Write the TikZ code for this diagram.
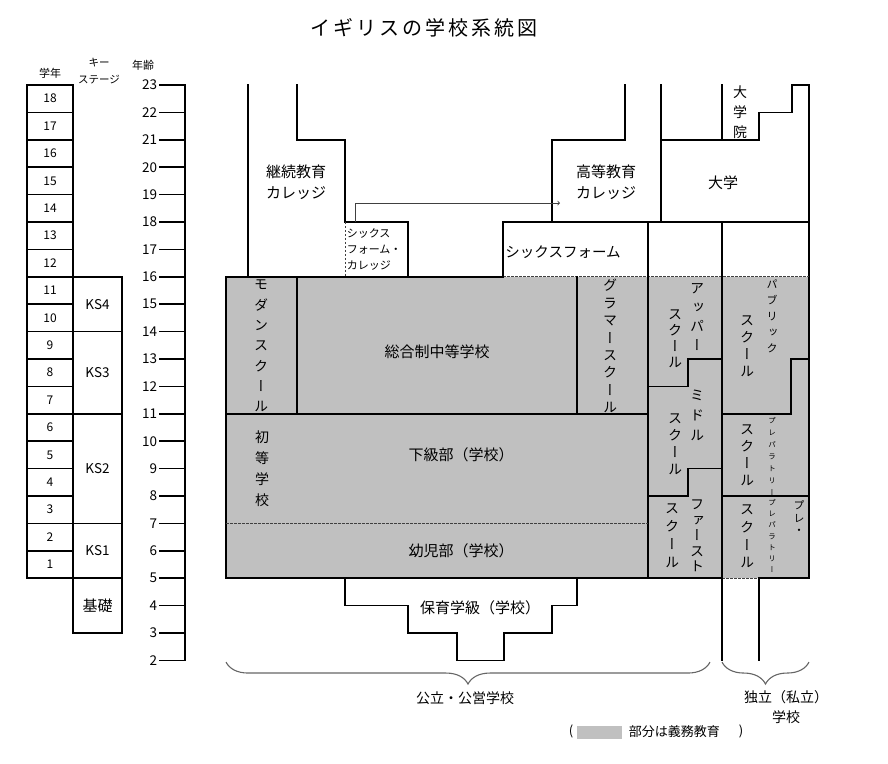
\documentclass[tikz,border=0pt]{standalone}
\usepackage{fontspec}
\setmainfont{Noto Sans CJK JP}
\newfontfamily\vjp[RawFeature=+vert]{Noto Sans CJK JP}
\newfontfamily\titlejp[LetterSpace=15]{Noto Sans CJK JP}
\usetikzlibrary{decorations.pathreplacing}
\definecolor{compgray}{RGB}{192,192,192}

\begin{document}
\begin{tikzpicture}[x=1pt, y=27.4pt, line width=1.6pt, line cap=rect,
  lbl/.style={inner sep=0pt, align=center, font=\fontsize{15}{21}\selectfont},
  lblsm/.style={inner sep=0pt, align=left, font=\fontsize{11}{16}\selectfont},
  hdr/.style={inner sep=0pt, align=center, font=\fontsize{11}{17}\selectfont},
  num/.style={inner sep=0pt, font=\fontsize{12}{14}\selectfont},
  agenum/.style={inner sep=0pt, anchor=east, font=\fontsize{13.5}{15}\selectfont},
  vt/.style={inner sep=0pt, align=center, font=\vjp\fontsize{14}{#1}\selectfont},
  vtsm/.style={inner sep=0pt, align=center, font=\vjp\fontsize{11}{#1}\selectfont},
  vttiny/.style={inner sep=0pt, align=center, font=\vjp\fontsize{7.5}{#1}\selectfont},
  dashline/.style={line width=0.8pt, line cap=butt, black!75, dash pattern=on 2.5pt off 1.5pt},
  schoolbrace/.style={decorate, decoration={brace, mirror, amplitude=22pt},
    line width=1.1pt, line cap=butt, black!60}]
  \useasboundingbox (0,-1.781) rectangle (888,26.102);

  % title and headers
  \node[inner sep=0pt, font=\titlejp\fontsize{20}{24}\selectfont] (title) at (424,25.08) {イギリスの学校系統図};
  \node[hdr] (hGrade) at (50,23.43) {学年};
  \node[hdr, font=\fontsize{10.5}{17}\selectfont] (hStage) at (99,23.49) {キー\\ステージ};
  \node[hdr] (hAge) at (143,23.73) {年齢};

  % grade column
  \draw (27,5) rectangle (73,23);
  \foreach \a in {6,...,22}
    \draw (27,\a) -- (73,\a);
  \foreach \g in {1,...,18}
    \node[num] (grade\g) at (50,{\g+4.5}) {\g};

  % key stages
  \draw (73,3) rectangle (122,16);
  \foreach \a in {5,7,11,14}
    \draw (73,\a) -- (122,\a);
  \node[agenum, anchor=center] (ks4) at (97.5,15) {KS4};
  \node[agenum, anchor=center] (ks3) at (97.5,12.5) {KS3};
  \node[agenum, anchor=center] (ks2) at (97.5,9) {KS2};
  \node[agenum, anchor=center] (ks1) at (97.5,6) {KS1};
  \node[lbl] (kiso) at (97.5,4) {基礎};

  % age axis
  \draw (185,2) -- (185,23);
  \foreach \a in {2,...,23} {
    \draw (160,\a) -- (185,\a);
    \node[agenum] (age\a) at (158,\a) {\a};
  }

  % compulsory part
  \fill[compgray] (226,5) rectangle (809,16);

  % outline
  \draw (503,16) -- (226,16) -- (226,5) -- (722,5);
  \draw (759,5) -- (809,5) -- (809,23) -- (792,23) -- (792,22) -- (759,22) -- (759,21) -- (661,21);
  \draw[dashline] (503,16) -- (809,16);
  \draw[dashline] (722,5) -- (759,5);
  % colleges above 16
  \draw (248,23) -- (248,16);
  \draw (297,23) -- (297,21) -- (345,21) -- (345,18) -- (408,18) -- (408,16);
  \draw[dashline] (345,18) -- (345,16);
  \draw (625,23) -- (625,21) -- (552,21) -- (552,18);
  \draw (503,16) -- (503,18) -- (809,18);
  \draw (661,23) -- (661,18);
  \draw (722,23) -- (722,21);
  \draw (648,18) -- (648,5);
  \draw (722,18) -- (722,2);
  % secondary
  \draw (297,16) -- (297,11);
  \draw (577,16) -- (577,11);
  \draw (226,11) -- (648,11);
  \draw[dashline] (226,7) -- (648,7);
  % upper / middle / first
  \draw (722,13) -- (688,13) -- (688,12) -- (648,12);
  \draw (722,9) -- (688,9) -- (688,8) -- (648,8);
  % public / preparatory
  \draw (809,13) -- (791,13) -- (791,11) -- (722,11);
  \draw (722,8) -- (809,8);
  % nursery
  \draw (345,5) -- (345,4) -- (408,4) -- (408,3) -- (457,3) -- (457,2)
    -- (504,2) -- (504,3) -- (552,3) -- (552,4) -- (577,4) -- (577,5);
  \draw (759,5) -- (759,2);

  % labels
  \node[lbl] (contEd) at (296,19.44) {継続教育\\カレッジ};
  \node[lbl] (higherEd) at (606,19.44) {高等教育\\カレッジ};
  \node[lbl] (univ) at (723,19.42) {大学};
  \node[vt=20] (grad) at (740,22.01) {大\\学\\院};
  \node[lblsm, anchor=west] (sfCollege) at (346,17.0) {シックス\\フォーム・\\カレッジ};
  \node[lbl, font=\fontsize{14.5}{20}\selectfont] (sixthForm) at (563,16.9) {シックスフォーム};
  \node[lbl] (comprehensive) at (437,13.25) {総合制中等学校};
  \node[lbl] (junior) at (461,9.5) {下級部（学校）};
  \node[lbl] (infant) at (461,6.0) {幼児部（学校）};
  \node[lbl] (nursery) at (480,3.91) {保育学級（学校）};
  \node[vt=20.3] (modern) at (261,13.47) {モ\\ダ\\ン\\ス\\ク\\ー\\ル};
  \node[vt=21] (primary) at (262,9.0) {初\\等\\学\\校};
  \node[vt=17.4] (grammar) at (610,13.47) {グ\\ラ\\マ\\ー\\ス\\ク\\ー\\ル};
  \node[vt=19] (upperA) at (697,14.55) {ア\\ッ\\パ\\ー};
  \node[vt=16] (upperB) at (675,13.73) {ス\\ク\\ー\\ル};
  \node[vt=20] (middleA) at (697,10.96) {ミ\\ド\\ル};
  \node[vt=17] (middleB) at (675,9.90) {ス\\ク\\ー\\ル};
  \node[vt=15.5] (firstA) at (697,6.54) {フ\\ァ\\ー\\ス\\ト};
  \node[vt=18] (firstB) at (672,6.56) {ス\\ク\\ー\\ル};
  \node[vtsm=16] (publicA) at (772,14.55) {パ\\ブ\\リ\\ッ\\ク};
  \node[vt=17] (publicB) at (747,13.47) {ス\\ク\\ー\\ル};
  \node[vttiny=12] (prepA) at (772,9.46) {プ\\レ\\パ\\ラ\\ト\\リ\\ー};
  \node[vt=17] (prepB) at (747,9.50) {ス\\ク\\ー\\ル};
  \node[vtsm=12.5] (preprepA) at (799,7.21) {プ\\レ\\・};
  \node[vttiny=11.3] (preprepB) at (772,6.54) {プ\\レ\\パ\\ラ\\ト\\リ\\ー};
  \node[vt=17.6] (preprepC) at (747,6.52) {ス\\ク\\ー\\ル};

  % sixth form college -> higher education
  \coordinate (sfcOut) at (355,18);
  \coordinate (hecIn) at (560,18.69);
  \draw[->, line width=0.8pt, line cap=butt, black!75] (sfcOut) |- (hecIn);

  % braces
  \coordinate (pubL) at (226,1.94);
  \coordinate (pubR) at (710,1.94);
  \coordinate (indL) at (722,1.94);
  \coordinate (indR) at (809,1.94);
  \draw[schoolbrace] (pubL) -- (pubR);
  \draw[schoolbrace] (indL) -- (indR);
  \node[lbl, font=\fontsize{14}{20}\selectfont] (public) at (465,0.63) {公立・公営学校};
  \node[lbl, font=\fontsize{14}{20}\selectfont] (independent) at (786,0.30) {独立（私立）\\学校};

  % legend
  \node[lbl, font=\fontsize{13}{16}\selectfont] (lgOpen) at (571,-0.61) {(};
  \fill[compgray] (577,-0.39) rectangle (622,-0.87);
  \node[lbl, font=\fontsize{13}{16}\selectfont, anchor=west] (lgText) at (628,-0.61) {部分は義務教育};
  \node[lbl, font=\fontsize{13}{16}\selectfont] (lgClose) at (741,-0.61) {)};
\end{tikzpicture}
\end{document}
